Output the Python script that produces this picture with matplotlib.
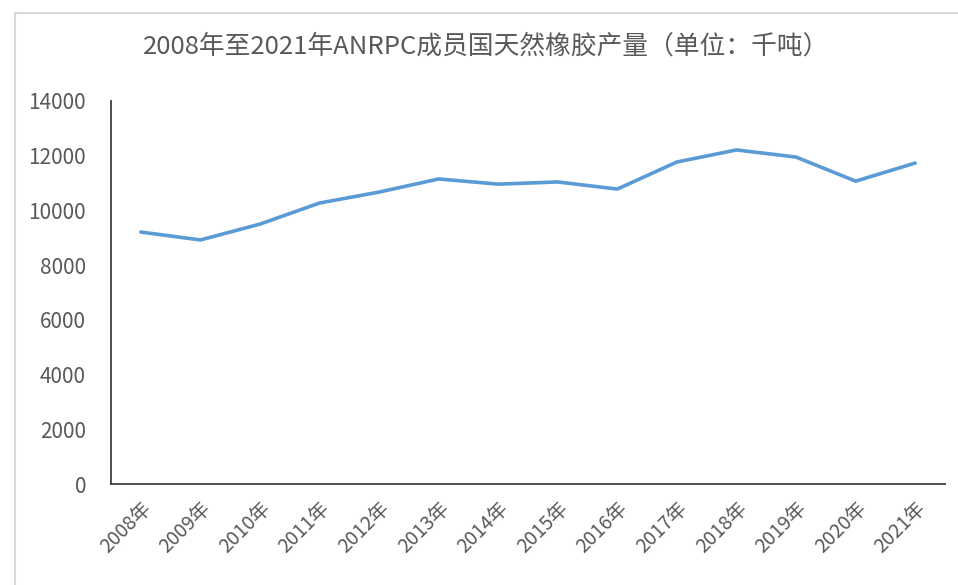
import matplotlib.pyplot as plt
from matplotlib.patches import Rectangle

plt.rcParams['font.family'] = ['Noto Sans CJK SC', 'DejaVu Sans']

years = ["2008年", "2009年", "2010年", "2011年", "2012年", "2013年", "2014年",
         "2015年", "2016年", "2017年", "2018年", "2019年", "2020年", "2021年"]
output = [9210, 8920, 9500, 10270, 10670, 11150, 10960,
          11040, 10780, 11770, 12210, 11950, 11070, 11730]
yticks = [0, 2000, 4000, 6000, 8000, 10000, 12000, 14000]

fig = plt.figure(figsize=(9.58, 5.85), dpi=100)
ax = fig.add_axes([0.1159, 0.1726, 0.8705, 0.6548])

# light frame around the chart area
fig.patches.append(Rectangle((15 / 958, -0.05), 1.0, 1 - 13 / 585 + 0.05,
                             transform=fig.transFigure, fill=False,
                             edgecolor="#d9d9d9", linewidth=1.5))

x = range(len(years))
ax.plot(x, output, color="#5B9BD5", linewidth=2.6, solid_capstyle="round")

ax.set_xlim(-0.5, len(years) - 0.5)
ax.set_ylim(0, 14000)
ax.set_yticks(yticks)
ax.set_yticklabels([str(v) for v in yticks], fontsize=15, color="#595959")
ax.set_xticks(list(x))
ax.set_xticklabels(years, rotation=45, ha="right", rotation_mode="anchor",
                   fontsize=14, color="#595959")
ax.tick_params(axis="both", length=0)
ax.tick_params(axis="y", pad=18)
ax.tick_params(axis="x", pad=10)

for s in ["top", "right"]:
    ax.spines[s].set_visible(False)
for s in ["left", "bottom"]:
    ax.spines[s].set_color("#404040")
    ax.spines[s].set_linewidth(1.3)

fig.text(0.508, 1 - 47 / 585, "2008年至2021年ANRPC成员国天然橡胶产量（单位：千吨）",
         ha="center", va="center", fontsize=18.5, color="#595959",
         fontweight="light")

fig.savefig("out.png", dpi=100, facecolor="white")
